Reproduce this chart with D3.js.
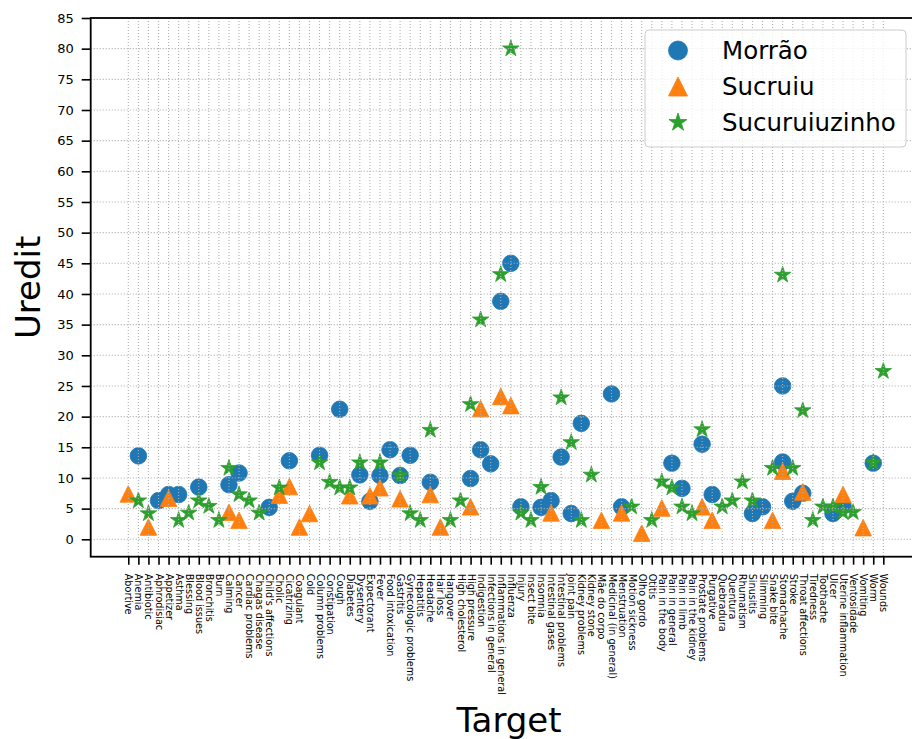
<!DOCTYPE html>
<html>
<head>
<meta charset="utf-8">
<script src="https://cdnjs.cloudflare.com/ajax/libs/d3/7.8.5/d3.min.js"></script>
<style>
  html, body { margin: 0; padding: 0; background: #fff; }
  svg { display: block; font-family: "DejaVu Sans", sans-serif; }
</style>
</head>
<body>
<svg id="chart" width="912" height="739"></svg>
<script>
const categories = [
  "Abortive","Anemia","Antibiotic","Aphrodisiac","Appetizer","Asthma","Blessing","Blood issues",
  "Bronchitis","Burn","Calming","Cancer","Cardiac problems","Chagas disease","Child's affections",
  "Cholic","Cicatrizing","Coagulant","Cold","Column problems","Constipation","Cough","Diabetes",
  "Dysentery","Expectorant","Fever","Food intoxication","Gastritis","Gynecologic problems",
  "Hepatitis","Headache","Hair loss","Hangover","High cholesterol","High pressure","Indigestion",
  "Infections in general","Inflammations in general","Influenza","Injury","Insect bite","Insomnia",
  "Intestinal gases","Intestinal problems","Joint pain","Kidney problems","Kidney stone",
  "Mãe do corpo","Medicinal (in general)","Menstruation","Motion sickness","Olho gordo","Otitis",
  "Pain in the body","Pain in general","Pain in limb","Pain in the kidney","Prostate problems",
  "Purgative","Quebradura","Quentura","Rhumatism","Sinusitis","Slimming","Snake bite","Stomachache",
  "Stroke","Throat affections","Tiredness","Toothache","Ulcer","Uterine inflammation","Ventosidade",
  "Vomiting","Worm","Wounds"
];

const seriesNames = ["Morrão", "Sucruiu", "Sucuruiuzinho"];
const seriesColors = ["#1f77b4", "#ff7f0e", "#2ca02c"];
const yTicks = [0,5,10,15,20,25,30,35,40,45,50,55,60,65,70,75,80,85];

const morraoCats = ["Anemia","Aphrodisiac","Appetizer","Asthma","Blood issues","Calming","Cancer",
  "Child's affections","Cicatrizing","Column problems","Cough","Dysentery","Expectorant","Fever",
  "Food intoxication","Gastritis","Gynecologic problems","Headache","High pressure","Indigestion",
  "Infections in general","Inflammations in general","Influenza","Injury","Insomnia","Intestinal gases",
  "Intestinal problems","Joint pain","Kidney problems","Medicinal (in general)","Menstruation",
  "Pain in general","Pain in limb","Prostate problems","Purgative","Sinusitis","Slimming",
  "Stomachache","Stomachache","Stroke","Throat affections","Ulcer","Uterine inflammation","Worm"];
const morraoVals = [13.6,6.3,7.3,7.3,8.5,8.9,10.8,
  5.2,12.8,13.7,21.2,10.5,6.2,10.4,
  14.6,10.4,13.7,9.3,9.9,14.6,
  12.3,38.8,45.0,5.3,5.2,6.3,
  13.4,4.2,18.9,23.7,5.3,
  12.4,8.3,15.5,7.3,4.2,5.3,
  25.0,12.6,6.2,7.5,4.2,5.4,12.4];

const sucruiuCats = ["Abortive","Antibiotic","Appetizer","Calming","Cancer","Cholic","Cicatrizing",
  "Coagulant","Cold","Diabetes","Expectorant","Fever","Gastritis","Headache","Hair loss",
  "High pressure","Indigestion","Inflammations in general","Influenza","Intestinal gases",
  "Mãe do corpo","Menstruation","Olho gordo","Pain in the body","Prostate problems","Purgative",
  "Snake bite","Stomachache","Throat affections","Uterine inflammation","Vomiting"];
const sucruiuVals = [7.4,2.0,6.7,4.4,3.1,7.2,8.6,
  2.0,4.2,7.1,7.1,8.4,6.6,7.3,2.0,
  5.3,21.3,23.3,21.8,4.3,
  3.1,4.3,1.0,5.1,5.3,3.1,
  3.1,11.1,7.7,7.3,1.9];

const sucuruiuzinhoCats = ["Anemia","Antibiotic","Asthma","Blessing","Blood issues","Bronchitis","Burn",
  "Calming","Cancer","Cardiac problems","Chagas disease","Cholic","Column problems","Constipation",
  "Cough","Diabetes","Dysentery","Fever","Gastritis","Gynecologic problems","Hepatitis","Headache",
  "Hangover","High cholesterol","High pressure","Indigestion","Inflammations in general","Influenza",
  "Injury","Insect bite","Insomnia","Intestinal problems","Joint pain","Kidney problems","Kidney stone",
  "Motion sickness","Otitis","Pain in the body","Pain in general","Pain in limb","Pain in the kidney",
  "Prostate problems","Quebradura","Quentura","Rhumatism","Sinusitis","Snake bite","Stomachache",
  "Stroke","Throat affections","Tiredness","Toothache","Ulcer","Uterine inflammation","Ventosidade",
  "Worm","Wounds"];
const sucuruiuzinhoVals = [6.3,4.2,3.1,4.3,6.3,5.4,3.1,
  11.6,7.3,6.3,4.3,8.4,12.5,9.3,
  8.4,8.4,12.5,12.5,10.4,4.2,3.1,17.8,
  3.1,6.3,22.0,35.8,43.2,80.0,
  4.3,3.1,8.5,23.1,15.8,3.1,10.5,
  5.3,3.1,9.4,8.4,5.3,4.2,
  17.9,5.3,6.3,9.4,6.3,11.6,43.1,
  11.6,21.0,3.1,5.3,5.3,4.4,4.4,
  12.5,27.4];

const plotLeft = 90.7, plotRight = 921, plotTop = 18, plotBottom = 556.7;
const svg = d3.select("#chart");

const x = d3.scalePoint().domain(categories).range([128.3, 883.3]);
const y = d3.scaleLinear().domain([-2.84, 85]).range([plotBottom, plotTop]);

const R = 8.3;
function markerPath(kind, r) {
  if (kind === 0) {
    const p = d3.path(); p.arc(0, 0, r, 0, 2 * Math.PI); p.closePath(); return p.toString();
  }
  if (kind === 1) {
    return `M0,${-r}L${-r},${r}L${r},${r}Z`;
  }
  const inner = r * 0.381966;
  const pts = [];
  for (let k = 0; k < 10; k++) {
    const a = -Math.PI / 2 + k * Math.PI / 5;
    const rr = k % 2 === 0 ? r : inner;
    pts.push([rr * Math.cos(a), rr * Math.sin(a)]);
  }
  return "M" + pts.map(p => p[0].toFixed(2) + "," + p[1].toFixed(2)).join("L") + "Z";
}

const seriesCats = [morraoCats, sucruiuCats, sucuruiuzinhoCats];
const seriesVals = [morraoVals, sucruiuVals, sucuruiuzinhoVals];

svg.append("clipPath").attr("id", "clipPlot")
  .append("rect").attr("x", plotLeft).attr("y", plotTop)
  .attr("width", plotRight - plotLeft).attr("height", plotBottom - plotTop);

const plot = svg.append("g");
seriesNames.forEach((name, s) => {
  const data = seriesCats[s].map((c, i) => ({ c, v: seriesVals[s][i] }));
  plot.append("g").selectAll("path").data(data).join("path")
    .attr("d", markerPath(s, s === 2 ? R * 1.05 : R))
    .attr("transform", d => `translate(${x(d.c)},${y(d.v)})`)
    .attr("fill", seriesColors[s])
    .attr("stroke", seriesColors[s])
    .attr("stroke-width", 0.8);
});

const grid = svg.append("g").attr("stroke", "#b0b0b0").attr("stroke-width", 1.1)
  .attr("stroke-dasharray", "1.1,1.9").attr("clip-path", "url(#clipPlot)");
grid.selectAll("line.v").data(categories).join("line").attr("class", "v")
  .attr("x1", d => x(d)).attr("x2", d => x(d)).attr("y1", plotTop).attr("y2", plotBottom);
grid.selectAll("line.h").data(yTicks).join("line").attr("class", "h")
  .attr("x1", plotLeft).attr("x2", plotRight).attr("y1", d => y(d)).attr("y2", d => y(d));

const yAxis = svg.append("g").attr("transform", `translate(${plotLeft},0)`)
  .call(d3.axisLeft(y).tickValues(yTicks).tickSize(9).tickPadding(8));
yAxis.select(".domain").remove();
yAxis.selectAll(".tick line").attr("stroke", "#000").attr("stroke-width", 1.6);
yAxis.selectAll(".tick text").attr("font-size", 13).attr("fill", "#000")
  .attr("font-family", "DejaVu Sans");

const xAxis = svg.append("g").attr("transform", `translate(0,${plotBottom})`)
  .call(d3.axisBottom(x).tickSize(8).tickPadding(0));
xAxis.select(".domain").remove();
xAxis.selectAll(".tick line").attr("stroke", "#000").attr("stroke-width", 1.6);
xAxis.selectAll(".tick text")
  .attr("font-size", 9.7).attr("fill", "#000").attr("font-family", "DejaVu Sans")
  .attr("text-anchor", "start").attr("dy", null).attr("y", 0)
  .attr("dominant-baseline", "central")
  .attr("transform", "translate(0,17) rotate(90)");

svg.append("g").attr("stroke", "#000").attr("stroke-width", 1.8).attr("fill", "none")
  .append("rect").attr("x", plotLeft).attr("y", plotTop)
  .attr("width", plotRight - plotLeft).attr("height", plotBottom - plotTop);

svg.append("text").attr("x", 509).attr("y", 732).attr("text-anchor", "middle")
  .attr("font-size", 34).attr("font-family", "DejaVu Sans").text("Target");
svg.append("text").attr("transform", `translate(40,${(plotTop + plotBottom) / 2}) rotate(-90)`)
  .attr("text-anchor", "middle").attr("font-size", 34).attr("font-family", "DejaVu Sans").text("Uredit");

const lg = svg.append("g");
lg.append("rect").attr("x", 645).attr("y", 30).attr("width", 261).attr("height", 117).attr("rx", 4)
  .attr("fill", "#fff").attr("fill-opacity", 0.8).attr("stroke", "#cccccc").attr("stroke-width", 1);
seriesNames.forEach((name, s) => {
  const cy = 50.5 + s * 36;
  lg.append("path").attr("d", markerPath(s, 9.5))
    .attr("transform", `translate(678,${cy})`)
    .attr("fill", seriesColors[s]).attr("stroke", seriesColors[s]).attr("stroke-width", 0.8);
  lg.append("text").attr("x", 722).attr("y", cy).attr("dominant-baseline", "central")
    .attr("font-size", 24.5).attr("font-family", "DejaVu Sans").text(name);
});
</script>
</body>
</html>
